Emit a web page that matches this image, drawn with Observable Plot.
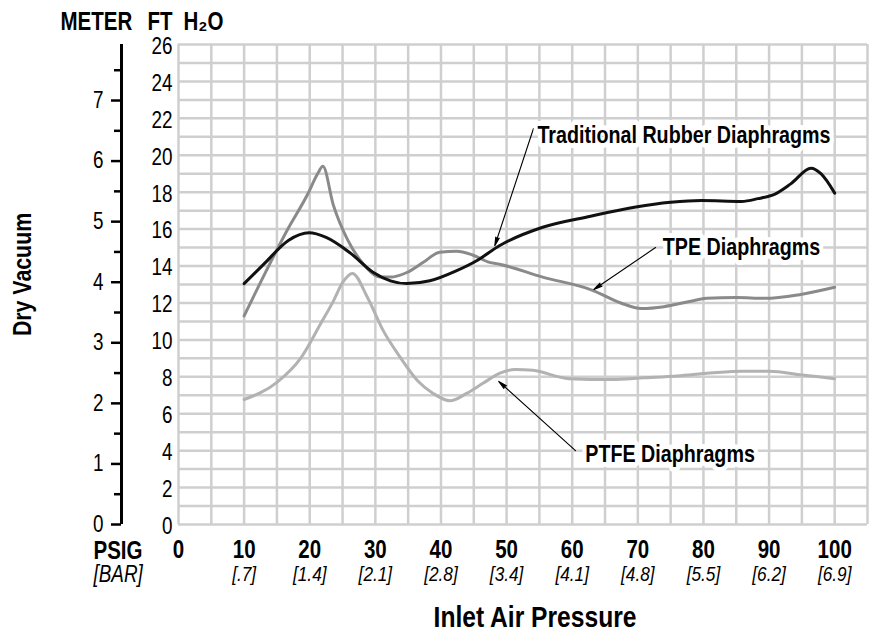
<!DOCTYPE html>
<html><head><meta charset="utf-8">
<script src="https://cdn.jsdelivr.net/npm/d3@7"></script>
<script src="https://cdn.jsdelivr.net/npm/@observablehq/plot@0.6"></script>
<style>
body{margin:0;background:#fff;}
svg{display:block}
</style></head><body><div id="chart"></div>
<script>
const FONT = '"Liberation Sans",Arial,sans-serif';
const CONDENSE = 0.82;

// Axis ticks / labels
const psigTicks = [0, 10, 20, 30, 40, 50, 60, 70, 80, 90, 100];
const barLabels = ["", "[.7]", "[1.4]", "[2.1]", "[2.8]", "[3.4]", "[4.1]", "[4.8]", "[5.5]", "[6.2]", "[6.9]"];
const ftTicks = [0, 2, 4, 6, 8, 10, 12, 14, 16, 18, 20, 22, 24, 26];
const meterTicks = [0, 1, 2, 3, 4, 5, 6, 7];
const meterMinor = [0.5, 1.5, 2.5, 3.5, 4.5, 5.5, 6.5, 7.5];
const gridPsig = [0,5,10,15,20,25,30,35,40,45,50,55,60,65,70,75,80,85,90,95,100,105];
const gridFt = [0,1,2,3,4,5,6,7,8,9,10,11,12,13,14,15,16,17,18,19,20,21,22,23,24,25,26];
const FT_PER_M = 3.28084;

// Series: [psig, ft H2O]
const rubber = [[10,13.05],[13,14.1],[16.8,15.4],[19.9,15.8],[22.5,15.55],[26.2,14.7],[29.7,13.65],[32.3,13.2],[34.8,13.05],[38.3,13.2],[42.4,13.75],[45.5,14.3],[48.9,15.1],[55.5,16.1],[62.8,16.7],[69.7,17.2],[75,17.45],[79.7,17.55],[85.8,17.5],[88.3,17.65],[90.9,17.9],[93.3,18.45],[96.4,19.3],[97.9,19.0],[100,17.95]];
const tpe = [[10,11.3],[13.6,13.9],[16.5,15.9],[19.7,17.9],[21.2,19.0],[22,19.4],[23.6,17.3],[25.8,15.4],[28.2,14.1],[30.8,13.4],[32.3,13.4],[34.8,13.65],[37.3,14.2],[39.8,14.75],[42.4,14.8],[44.8,14.6],[47.4,14.2],[48.9,14.1],[55.5,13.4],[63,12.7],[67.4,12.0],[70.5,11.7],[74,11.8],[77.5,12.05],[80.5,12.25],[85,12.3],[89.4,12.25],[94.6,12.45],[100,12.85]];
const ptfe = [[10,6.77],[15,7.7],[18.6,9.0],[21.7,10.9],[23.6,12.1],[25,13.1],[26.5,13.6],[28.8,12.3],[31.2,10.5],[33.8,9.05],[36.4,7.8],[38.8,7.1],[41.4,6.7],[43.9,7.1],[46.4,7.65],[49,8.2],[51.3,8.4],[54,8.35],[59.5,7.9],[66,7.85],[71,7.95],[76,8.05],[81,8.2],[86,8.3],[90,8.3],[95,8.1],[100,7.9]];

// Annotations
const annLabels = [
  {text: "Traditional Rubber Diaphragms", x: 54.7, y: 21.07},
  {text: "TPE Diaphragms", x: 73.8, y: 15.0},
  {text: "PTFE Diaphragms", x: 62.0, y: 3.8}
];
const annArrows = [
  {x1: 54.1, y1: 21.45, x2: 48.2, y2: 15.1},
  {x1: 72.7, y1: 15.0, x2: 63.3, y2: 12.73},
  {x1: 60.5, y1: 4.0, x2: 48.8, y2: 7.75}
];

const gridStyle = {stroke: "#cfcfcf", strokeOpacity: 1, strokeWidth: 2.5};
const lineOpts = (stroke) => ({x: d => d[0], y: d => d[1], curve: "monotone-x", stroke, strokeWidth: 3});

const chart = Plot.plot({
  width: 879,
  height: 633,
  marginLeft: 178,
  marginRight: 12,
  marginTop: 44,
  marginBottom: 109,
  style: {fontFamily: FONT, background: "#fff", color: "#000"},
  x: {domain: [0, 105], label: null},
  y: {domain: [0, 26], label: null},
  marks: [
    Plot.gridX(gridPsig, gridStyle),
    Plot.gridY(gridFt, gridStyle),
    Plot.line(ptfe, lineOpts("#b2b2b2")),
    Plot.line(tpe, lineOpts("#8a8a8a")),
    Plot.line(rubber, lineOpts("#111")),
    Plot.arrow(annArrows, {x1: "x1", y1: "y1", x2: "x2", y2: "y2", stroke: "#000", fill: "#000", strokeWidth: 1.1, headLength: 12, headAngle: 24}),
    Plot.text(annLabels, {x: "x", y: "y", text: "text", textAnchor: "start", fontWeight: "bold", fontSize: 24, fill: "#000", stroke: "#fff", strokeWidth: 10, fontFamily: FONT}),
    // ft axis
    Plot.axisY({ticks: ftTicks, tickSize: 0, tickPadding: 6, fontSize: 23, dy: 2, label: null, fontFamily: FONT}),
    // meter axis
    Plot.ruleX([0], {y1: 0, y2: 26, dx: -57, stroke: "#000", strokeWidth: 3}),
    Plot.axisY({ticks: meterTicks.map(m => m * FT_PER_M), tickFormat: d => String(Math.round(d / FT_PER_M)), tickSize: 10, tickPadding: 8, strokeWidth: 2.5, dx: -57, fontSize: 23, dy: 0, label: null, fontFamily: FONT}),
    Plot.axisY({ticks: meterMinor.map(m => m * FT_PER_M), tickSize: 7, text: null, strokeWidth: 2.5, dx: -57, label: null}),
    // x axis
    Plot.axisX({ticks: psigTicks, tickSize: 0, tickPadding: 25, lineAnchor: "middle", fontSize: 25, fontWeight: "bold", label: null, fontFamily: FONT}),
    Plot.axisX({ticks: psigTicks, tickFormat: d => barLabels[psigTicks.indexOf(d)], tickSize: 0, tickPadding: 50, lineAnchor: "middle", fontSize: 21, fontStyle: "italic", label: null, fontFamily: FONT}),
    Plot.text(["PSIG"], {frameAnchor: "bottom-left", dx: -85, dy: 26, textAnchor: "start", lineAnchor: "middle", fontWeight: "bold", fontSize: 25, fontFamily: FONT}),
    Plot.text(["[BAR]"], {frameAnchor: "bottom-left", dx: -85, dy: 50, textAnchor: "start", lineAnchor: "middle", fontStyle: "italic", fontSize: 23, fontFamily: FONT}),
    // titles
    Plot.text(["METER"], {frameAnchor: "top-left", dx: -118, dy: -23, textAnchor: "start", lineAnchor: "middle", fontWeight: "bold", fontSize: 25, fontFamily: FONT}),
    Plot.text(["FT"], {frameAnchor: "top-left", dx: -31, dy: -23, textAnchor: "start", lineAnchor: "middle", fontWeight: "bold", fontSize: 25, fontFamily: FONT}),
    Plot.text(["H₂O"], {frameAnchor: "top-left", dx: 5, dy: -23, textAnchor: "start", lineAnchor: "middle", fontWeight: "bold", fontSize: 25, fontFamily: FONT}),
    Plot.text(["Dry Vacuum"], {frameAnchor: "left", dx: -156, dy: -10, rotate: -90, textAnchor: "middle", lineAnchor: "middle", fontWeight: "bold", fontSize: 26, fontFamily: FONT}),
    Plot.text(["Inlet Air Pressure"], {frameAnchor: "bottom", dx: 12, dy: 93, lineAnchor: "middle", fontWeight: "bold", fontSize: 30, fontFamily: FONT})
  ]
});
document.getElementById("chart").appendChild(chart);
// Condense glyphs horizontally to mimic the condensed typeface of the original
d3.select(chart).selectAll("text").each(function() {
  const len = this.getComputedTextLength();
  if (len > 0) {
    this.setAttribute("textLength", (len * CONDENSE).toFixed(2));
    this.setAttribute("lengthAdjust", "spacingAndGlyphs");
  }
});
</script></body></html>
